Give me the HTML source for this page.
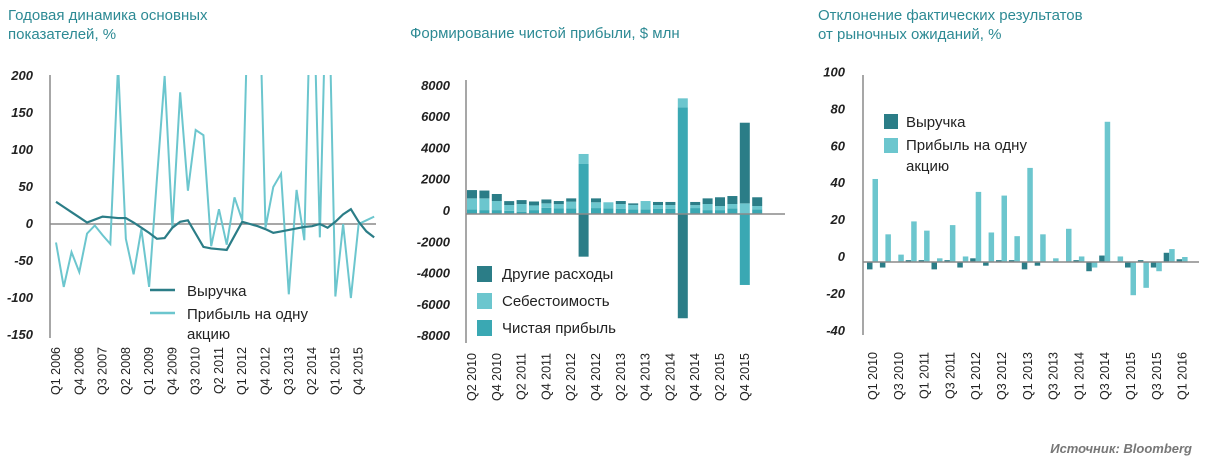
<!DOCTYPE html>
<html><head><meta charset="utf-8">
<style>
html,body{margin:0;padding:0;background:#fff;}
svg{display:block;font-family:"Liberation Sans",sans-serif;}
.title{fill:#2d8a94;font-size:15px;}
.tick{fill:#222;font-size:13px;font-weight:bold;font-style:italic;}
.xl{fill:#222;font-size:12.5px;}
.leg{fill:#222;font-size:15px;}
</style></head>
<body>
<svg id="s" width="1214" height="469" viewBox="0 0 1214 469">
<defs><clipPath id="c1"><rect x="40" y="75" width="345" height="300"/></clipPath></defs>
<text class="title" x="8" y="20">Годовая динамика основных</text>
<text class="title" x="8" y="39">показателей, %</text>
<text class="title" x="410" y="38">Формирование чистой прибыли, $ млн</text>
<text class="title" x="818" y="20">Отклонение фактических результатов</text>
<text class="title" x="818" y="39">от рыночных ожиданий, %</text>
<text x="1192" y="453" text-anchor="end" fill="#777" font-size="13" font-weight="bold" font-style="italic">Источник: Bloomberg</text>
<g id="g1"></g>
<g id="g2"></g>
<g id="g3"></g>
</svg>
<script>
// ---- Chart 1 data
const c1Ticks = [200,150,100,50,0,-50,-100,-150];
const c1Labels = ["Q1 2006","Q4 2006","Q3 2007","Q2 2008","Q1 2009","Q4 2009","Q3 2010","Q2 2011","Q1 2012","Q4 2012","Q3 2013","Q2 2014","Q1 2015","Q4 2015"];
const c1Revenue = [30,23,16,9,2,6,10,9,8,8,2,-5,-12,-20,-19,-5,3,5,-13,-31,-33,-34,-35,-16,3,0,-3,-7,-12,-10,-8,-6,-4,-3,0,-5,3,13,20,3,-10,-18];
const c1Eps = [-25,-85,-38,-65,-13,-2,-15,-27,215,-20,-68,-7,-85,60,200,-5,178,45,127,120,-30,20,-28,36,5,400,400,-5,50,68,-95,46,-22,400,-18,400,-98,0,-100,0,5,10];
// ---- Chart 2 data
const c2Ticks = [8000,6000,4000,2000,0,-2000,-4000,-6000,-8000];
const c2Labels = ["Q2 2010","Q4 2010","Q2 2011","Q4 2011","Q2 2012","Q4 2012","Q2 2013","Q4 2013","Q2 2014","Q4 2014","Q2 2015","Q4 2015"];
const c2Net   = [300,250,250,200,150,250,400,350,360,3200,380,360,340,300,300,340,340,6820,380,250,250,360,-4540,300];
const c2Cost  = [700,750,580,375,490,300,280,280,430,640,370,390,300,280,530,235,235,580,190,390,260,280,680,210];
const c2Other = [530,500,450,250,250,250,250,200,210,-2730,250,0,190,100,0,195,195,-6670,200,360,560,510,5160,560];
// ---- Chart 3 data
const c3Ticks = [100,80,60,40,20,0,-20,-40];
const c3Labels = ["Q1 2010","Q3 2010","Q1 2011","Q3 2011","Q1 2012","Q3 2012","Q1 2013","Q3 2013","Q1 2014","Q3 2014","Q1 2015","Q3 2015","Q1 2016"];
const c3Rev = [-4,-3,0,1,1,-4,1,-3,2,-2,1,1,-4,-2,0,0,1,-5,3.5,0,-3,1,-3,5,1.5];
const c3Eps = [45,15,4,22,17,2,20,3,38,16,36,14,51,15,2,18,3,-3,76,3,-18,-14,-5,7,2.7];

const NS="http://www.w3.org/2000/svg";
function mk(parent,tag,attrs,txt){const e=document.createElementNS(NS,tag);for(const k in attrs)e.setAttribute(k,attrs[k]);if(txt!==undefined)e.textContent=txt;parent.appendChild(e);return e;}
const DARK="#2b7d87", LIGHT="#6cc6ce", MID="#3aa8b3", AX="#8a8a8a";

// ===== Chart 1
(function(){
 const g=document.getElementById('g1');
 const y=v=>224-0.74*v;
 const x=i=>56+i*7.76;
 c1Ticks.forEach(t=>{const e=mk(g,'text',{class:'tick',x:33,y:y(t)+4,'text-anchor':'end'},String(t));
  
  });
 const ax=mk(g,'line',{x1:50,y1:75,x2:50,y2:338,stroke:AX,'stroke-width':1.5});
 
 
 const z=mk(g,'line',{x1:50,y1:y(0),x2:376,y2:y(0),stroke:AX,'stroke-width':1.5});
 
 
 c1Labels.forEach((l,k)=>{const cx=x(k*3)+4;const e=mk(g,'text',{class:'xl',x:0,y:0,'text-anchor':'end',transform:`translate(${cx},347) rotate(-90)`},l);
  
  });
 const cl=mk(g,'g',{'clip-path':'url(#c1)'});
 const pe=mk(cl,'polyline',{points:c1Eps.map((v,i)=>x(i)+','+y(v)).join(' '),fill:'none',stroke:LIGHT,'stroke-width':2});
 
 
 const pr=mk(cl,'polyline',{points:c1Revenue.map((v,i)=>x(i)+','+y(v)).join(' '),fill:'none',stroke:DARK,'stroke-width':2.2});
 
 
 const l1=mk(g,'g',{});
 
 
 mk(l1,'line',{x1:150,y1:290,x2:175,y2:290,stroke:DARK,'stroke-width':2.5});
 mk(l1,'text',{class:'leg',x:187,y:296},'Выручка');
 mk(l1,'line',{x1:150,y1:313,x2:175,y2:313,stroke:LIGHT,'stroke-width':2.5});
 mk(l1,'text',{class:'leg',x:187,y:319},'Прибыль на одну');
 mk(l1,'text',{class:'leg',x:187,y:339},'акцию');
})();

// ===== Chart 2
(function(){
 const g=document.getElementById('g2');
 const s=0.01563, y0=214;
 const y=v=>y0-v*s;
 const x=i=>472+i*12.4;
 c2Ticks.forEach(t=>{const e=mk(g,'text',{class:'tick',x:450,y:y(t)+1,'text-anchor':'end'},String(t));
  
  });
 c2Net.forEach((_,i)=>{
  let pos=0,neg=0;
  [[c2Net[i],MID,'net-profit-bar'],[c2Cost[i],LIGHT,'cost-bar'],[c2Other[i],DARK,'other-expenses-bar']].forEach(([v,c,n])=>{
   if(v===0)return;
   let top,h;
   if(v>0){top=y(pos+v);h=v*s;pos+=v;}else{top=y(neg);h=-v*s;neg+=v;}
   const r=mk(g,'rect',{x:x(i)-5,y:top,width:10,height:h,fill:c});
   
   
  });
 });
 const ax=mk(g,'line',{x1:466,y1:80,x2:466,y2:343,stroke:AX,'stroke-width':1.5});
 
 
 const z=mk(g,'line',{x1:466,y1:y0,x2:785,y2:y0,stroke:AX,'stroke-width':1.5});
 
 
 c2Labels.forEach((l,k)=>{const cx=x(k*2)+4;const e=mk(g,'text',{class:'xl',x:0,y:0,'text-anchor':'end',transform:`translate(${cx},353) rotate(-90)`},l);
  
  });
 const lg=mk(g,'g',{});
 
 
 [['Другие расходы',DARK,274],['Себестоимость',LIGHT,301],['Чистая прибыль',MID,328]].forEach(([t,c,yy])=>{
  mk(lg,'rect',{x:477,y:yy-8,width:15,height:16,fill:c});
  mk(lg,'text',{class:'leg',x:502,y:yy+5},t);
 });
})();

// ===== Chart 3
(function(){
 const g=document.getElementById('g3');
 const y0=262,s=1.845;
 const y=v=>y0-v*s;
 const x=i=>873+i*12.9;
 c3Ticks.forEach(t=>{const e=mk(g,'text',{class:'tick',x:845,y:y(t)-1,'text-anchor':'end'},String(t));
  
  });
 c3Rev.forEach((v,i)=>{
  const r=mk(g,'rect',{x:x(i)-6,y:Math.min(y(v),y0),width:5.5,height:Math.abs(v*s),fill:DARK});
  
  
  const w=c3Eps[i];
  const r2=mk(g,'rect',{x:x(i)-0.5,y:Math.min(y(w),y0),width:5.5,height:Math.abs(w*s),fill:LIGHT});
  
  
 });
 const ax=mk(g,'line',{x1:863,y1:75,x2:863,y2:335,stroke:AX,'stroke-width':1.5});
 
 
 const z=mk(g,'line',{x1:863,y1:y0,x2:1199,y2:y0,stroke:AX,'stroke-width':1.5});
 
 
 c3Labels.forEach((l,k)=>{const cx=x(k*2)+4;const e=mk(g,'text',{class:'xl',x:0,y:0,'text-anchor':'end',transform:`translate(${cx},352) rotate(-90)`},l);
  
  });
 const lg=mk(g,'g',{});
 
 
 mk(lg,'rect',{x:884,y:114,width:14,height:15,fill:DARK});
 mk(lg,'text',{class:'leg',x:906,y:127},'Выручка');
 mk(lg,'rect',{x:884,y:138,width:14,height:15,fill:LIGHT});
 mk(lg,'text',{class:'leg',x:906,y:150},'Прибыль на одну');
 mk(lg,'text',{class:'leg',x:906,y:171},'акцию');
})();
</script>
</body></html>
